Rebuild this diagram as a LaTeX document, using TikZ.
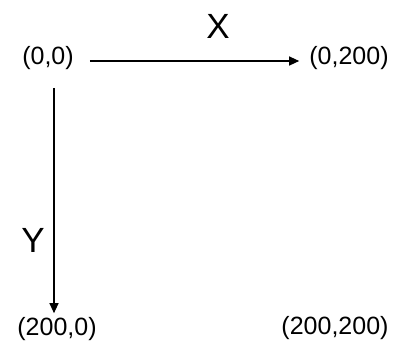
\documentclass[tikz,border=0pt]{standalone}
\usepackage{fontspec}
\setmainfont{Liberation Sans}
\usetikzlibrary{arrows.meta}

\tikzset{
  coord/.style={inner sep=2pt, font=\fontsize{25}{29}\selectfont},
  axisname/.style={inner sep=0pt, font=\fontsize{35}{40}\selectfont},
  axis/.style={line width=1.2pt, -{Triangle[length=10pt,width=9pt]}}
}

\begin{document}
\begin{tikzpicture}[x=1pt,y=-1pt]
    % Moldura da imagem
    \useasboundingbox (0,0) rectangle (403,346);

    % Cantos
    \node[coord] (n00) at (48,58) {(0,0)};
    \node[coord] (n0200) at (349,58) {(0,200)};
    \node[coord] (n2000) at (57,329) {(200,0)};
    \node[coord] (n200200) at (335,328) {(200,200)};

    % Eixos
    \draw[axis, shorten <=14pt, shorten >=8pt] ([yshift=-3pt]n00.east) -- ([yshift=-3pt]n0200.west);
    \draw[axis, shorten <=16pt, shorten >=2pt] ([xshift=6pt]n00.south) -- ([xshift=-3pt]n2000.north);

    % Nomes dos eixos
    \node[axisname] (xname) at (218,26) {X};
    \node[axisname] (yname) at (33,240) {Y};
\end{tikzpicture}
\end{document}
